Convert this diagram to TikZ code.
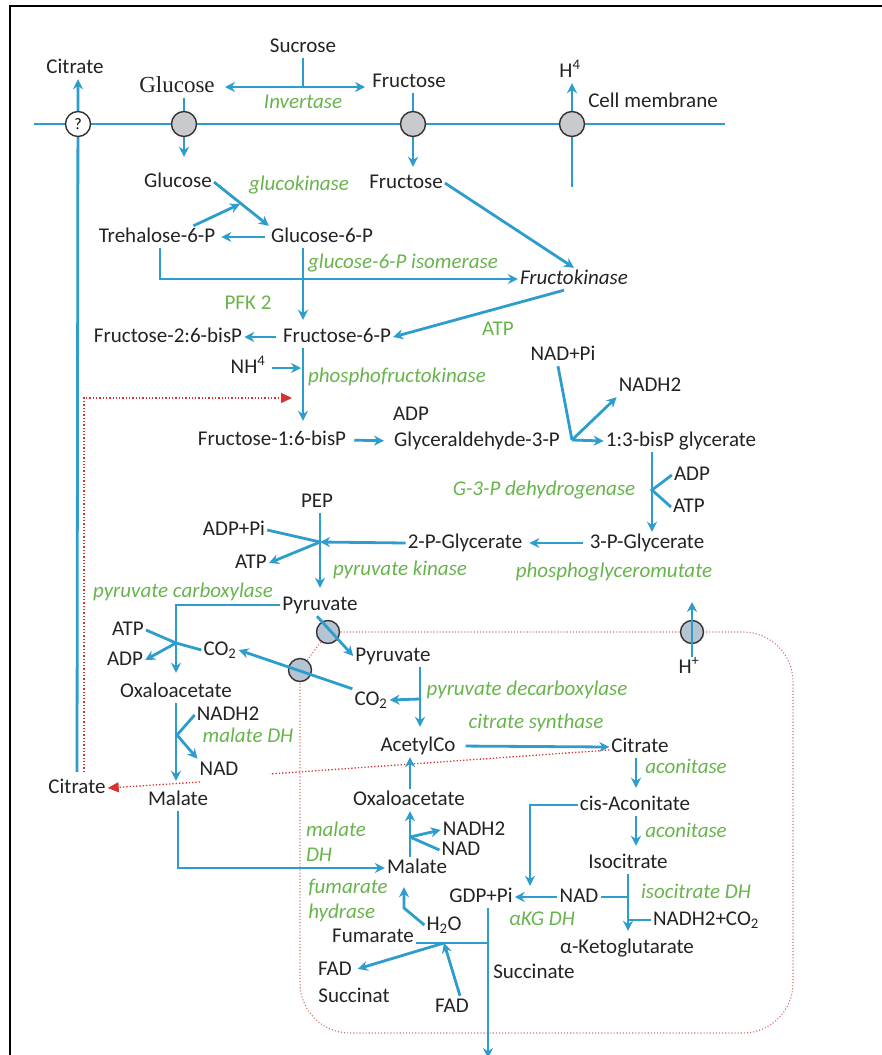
\documentclass[tikz,border=0pt]{standalone}
\usepackage{fontspec}
\setmainfont{Carlito}
\newfontfamily\glcserif{Liberation Serif}
\usetikzlibrary{arrows.meta}

\definecolor{pathblue}{RGB}{45,157,205}
\definecolor{enzgreen}{RGB}{104,180,76}
\definecolor{ink}{RGB}{35,35,35}
\definecolor{dotred}{RGB}{214,50,50}
\definecolor{mitored}{RGB}{214,110,110}
\definecolor{poregray}{RGB}{200,202,205}
\definecolor{mitogray}{RGB}{180,196,210}

\begin{document}
\begin{tikzpicture}[x=1pt, y=-1pt, >={Stealth[length=10pt,width=10pt]},
    txt/.style={font=\fontsize{21}{25}\selectfont, text=ink, inner sep=2pt, text height=14pt, text depth=4pt},
    enz/.style={txt, font=\fontsize{21}{25}\selectfont\itshape, text=enzgreen},
    enzup/.style={txt, text=enzgreen},
    enztwo/.style={font=\fontsize{21}{25}\selectfont\itshape, text=enzgreen, inner sep=2pt, align=left},
    flow/.style={draw=pathblue, line width=2.8pt},
    arr/.style={flow, ->},
    dual/.style={flow, <->},
    inhib/.style={draw=dotred, line width=1.3pt, dotted},
    mito/.style={draw=mitored, line width=1.1pt, dotted},
    pore/.style={circle, draw=black!80, line width=1.4pt, fill=poregray, minimum size=25pt, inner sep=0pt}]

    \useasboundingbox (0,0) rectangle (881,1055);
    \draw[black, line width=2.2pt] (10,1060) -- (10,6) -- (890,6);

    % membranes
    \coordinate (memL) at (34,124);
    \coordinate (memR) at (725,124);
    \coordinate (gq) at (78,124);
    \coordinate (gg) at (184,124);
    \coordinate (gf) at (413,124);
    \coordinate (gh) at (572,124);
    \coordinate (mt1) at (328,632);
    \coordinate (mt2) at (300,670);
    \coordinate (mt3) at (692,632);
    \draw[flow] (memL) -- (memR);
    \draw[mito] (mt1) -- (mt2);
    \draw[mito, rounded corners=50pt] (mt1) -- (793,632) -- (793,1033) -- (300,1033) -- (mt2);
    \foreach \m in {mt1,mt2,mt3} {\node[pore, fill=mitogray, minimum size=23pt] at (\m) {};}

    % outside
    \node[txt] (sucr) at (303,47) {Sucrose};
    \node[txt, font=\glcserif\fontsize{23}{27}\selectfont] (glcA) at (177,87) {Glucose};
    \node[txt] (fruA) at (409,82) {Fructose};
    \node[enz] (invert) at (303,103) {Invertase};
    \node[txt] (citA) at (75,68) {Citrate};
    \node[txt] (hA) at (570,72) {H\textsuperscript{4}};
    \node[txt] (membr) at (653,102) {Cell membrane};

    % cytoplasm
    \node[txt] (glcB) at (178,182) {Glucose};
    \node[enz] (gluk) at (299,185) {glucokinase};
    \node[txt] (fruB) at (406,183) {Fructose};
    \node[txt] (treh) at (157,237) {Trehalose-6-P};
    \node[txt] (g6p) at (322,237) {Glucose-6-P};
    \node[enz] (isom) at (403,263) {glucose-6-P isomerase};
    \node[txt, font=\fontsize{21}{25}\selectfont\itshape] (fkin) at (574,279) {Fructokinase};
    \node[enzup] (pfk2) at (248,304) {PFK 2};
    \node[enzup] (atpA) at (498,330) {ATP};
    \node[txt] (f26) at (168,337) {Fructose-2:6-bisP};
    \node[txt] (f6p) at (337,337) {Fructose-6-P};
    \node[txt] (nadpi) at (563,355) {NAD+Pi};
    \node[txt] (nh4) at (248,368) {NH\textsuperscript{4}};
    \node[enz] (pfk) at (397,377) {phosphofructokinase};
    \node[txt] (nadh2A) at (650,386) {NADH2};
    \node[txt] (adpA) at (411,415) {ADP};
    \node[txt] (f16) at (272,440) {Fructose-1:6-bisP};
    \node[txt] (gap) at (477,441) {Glyceraldehyde-3-P};
    \node[txt] (bpg) at (681,441) {1:3-bisP glycerate};
    \node[txt] (adpB) at (692,475) {ADP};
    \node[enz] (g3pdh) at (544,490) {G-3-P dehydrogenase};
    \node[txt] (atpB) at (689,507) {ATP};
    \node[txt] (pep) at (317,502) {PEP};
    \node[txt] (adppi) at (234,530) {ADP+Pi};
    \node[txt] (pg2) at (465,543) {2-P-Glycerate};
    \node[txt] (pg3) at (647,543) {3-P-Glycerate};
    \node[txt] (atpC) at (251,563) {ATP};
    \node[enz] (pyk) at (400,570) {pyruvate kinase};
    \node[enz] (pgm) at (614,572) {phosphoglyceromutate};
    \node[enz] (pc) at (183,592) {pyruvate carboxylase};
    \node[txt] (pyrA) at (320,605) {Pyruvate};
    \node[txt] (atpD) at (128,630) {ATP};
    \node[txt] (co2A) at (220,650) {CO\textsubscript{2}};
    \node[txt] (adpD) at (125,660) {ADP};
    \node[txt] (oaaA) at (176,692) {Oxaloacetate};
    \node[txt] (nadh2B) at (228,715) {NADH2};
    \node[enz] (mdhA) at (248,737) {malate DH};
    \node[txt] (nadB) at (219,770) {NAD};
    \node[txt] (citB) at (77,788) {Citrate};
    \node[txt] (malA) at (178,800) {Malate};

    % mitochondrion
    \node[txt] (pyrB) at (393,656) {Pyruvate};
    \node[txt] (hB) at (689,668) {H\textsuperscript{+}};
    \node[enz] (pdc) at (527,690) {pyruvate decarboxylase};
    \node[txt] (co2B) at (371,700) {CO\textsubscript{2}};
    \node[enz] (cs) at (536,723) {citrate synthase};
    \node[txt] (acoa) at (418,746) {AcetylCo};
    \node[txt] (citC) at (640,747) {Citrate};
    \node[enz] (aco1) at (686,768) {aconitase};
    \node[txt] (oaaB) at (409,800) {Oxaloacetate};
    \node[txt] (cisa) at (635,805) {cis-Aconitate};
    \node[enztwo] (mdhB) at (336,842) {malate\\DH};
    \node[txt] (nadh2C) at (474,830) {NADH2};
    \node[enz] (aco2) at (686,832) {aconitase};
    \node[txt] (nadC) at (461,850) {NAD};
    \node[txt] (isoc) at (628,863) {Isocitrate};
    \node[txt] (malB) at (417,868) {Malate};
    \node[enztwo] (fumh) at (348,900) {fumarate\\hydrase};
    \node[enz] (icdh) at (696,893) {isocitrate DH};
    \node[txt] (gdp) at (481,897) {GDP+Pi};
    \node[txt] (nadD) at (579,897) {NAD};
    \node[enz] (akgdh) at (542,920) {αKG DH};
    \node[txt] (nadh2co2) at (706,920) {NADH2+CO\textsubscript{2}};
    \node[txt] (h2o) at (444,925) {H\textsubscript{2}O};
    \node[txt] (fum) at (373,937) {Fumarate};
    \node[txt] (akg) at (627,948) {α-Ketoglutarate};
    \node[txt] (fadA) at (335,970) {FAD};
    \node[txt] (succ) at (534,973) {Succinate};
    \node[txt] (succt) at (354,997) {Succinat};
    \node[txt] (fadB) at (452,1007) {FAD};

    % junctions
    \coordinate (inv) at (303,87);
    \coordinate (invL) at (225,87);
    \coordinate (invR) at (365,87);
    \coordinate (hfoot) at (572,187);
    \coordinate (qfoot) at (77,772);
    \coordinate (rfoot) at (84,772);
    \coordinate (rtip) at (292,398);
    \coordinate (t6pin) at (240,204);
    \coordinate (spine) at (303,300);
    \coordinate (gapj) at (572,440);
    \coordinate (bx) at (652,490);
    \coordinate (pepj) at (320,542);
    \coordinate (pcj) at (176,643);
    \coordinate (mdhAj) at (177,735);
    \coordinate (pdcj) at (420,699);
    \coordinate (hBtip) at (692,602);
    \coordinate (acox) at (636,780);
    \coordinate (cisL) at (530,805);
    \coordinate (mdhj) at (410,837);
    \coordinate (icj) at (628,897);
    \coordinate (h2oj) at (404,908);
    \coordinate (sucj) at (488,943);
    \coordinate (fadj) at (444,943);
    \coordinate (sucfoot) at (488,1058);
    \coordinate (rgapR) at (270,774);
    \coordinate (rgapL) at (200,782);

    % sugar uptake
    \draw[flow] (sucr.south) -- (inv);
    \draw[dual] (invL) -- (invR);
    \draw[arr, shorten >=14pt] (gg |- glcA.south) -- (gg |- glcB.north);
    \draw[arr, shorten >=5pt] (gf |- fruA.south) -- (gf |- fruB.north);
    \draw[arr] (hfoot) -- (gh |- hA.south);
    \draw[arr] (qfoot) -- (gq |- citA.south);

    % glycolysis
    \draw[arr] (glcB.east) -- (g6p.north west);
    \draw[arr] ([xshift=-24pt]treh.north east) -- (t6pin);
    \draw[arr, shorten <=4pt, shorten >=4pt] (g6p.west) -- (treh.east);
    \draw[arr, shorten >=6pt] (spine |- g6p.south) -- (spine |- f6p.north);
    \draw[arr] ([xshift=3pt]treh.south) |- (fkin.west);
    \draw[arr] (fruB.east) -- (fkin.north);
    \draw[arr] ([xshift=-10pt]fkin.south) -- (f6p.east);
    \draw[arr, shorten <=5pt] (f6p.west) -- (f26.east);
    \draw[arr, shorten >=8pt] (spine |- f6p.south) -- (spine |- f16.north);
    \draw[arr, shorten <=5pt, shorten >=2pt] (nh4.east) -- (spine |- nh4);
    \draw[inhib, -{Triangle[length=11pt,width=10pt]}] (rfoot) |- (rtip);
    \draw[arr, shorten <=6pt, shorten >=8pt] (f16.east) -- (gap.west);
    \draw[flow] ([xshift=-5pt]nadpi.south) -- (gapj);
    \draw[arr] (gapj) -- (nadh2A.south west);
    \draw[arr] (gapj) -- (bpg.west);
    \draw[arr] (bx |- bpg.south) -- (bx |- pg3.north);
    \draw[flow] (adpB.west) -- (bx) -- (atpB.west);
    \draw[arr, shorten <=5pt, shorten >=5pt] (pg3.west) -- (pg2.east);
    \draw[arr] (pg2.west) -- (pepj);
    \draw[arr, shorten >=6pt] (pep.south -| pepj) -- (pyrA.north -| pepj);
    \draw[flow] (adppi.east) -- (pepj);
    \draw[arr] (pepj) -- (atpC.east);

    % anaplerotic branch
    \draw[arr, shorten >=8pt] (pyrA.west) -| (oaaA.north);
    \draw[flow] (atpD.east) -- (pcj);
    \draw[arr] (pcj) -- (adpD.east);
    \draw[flow] (co2A.west) -- (pcj);
    \draw[arr, shorten >=8pt] (oaaA.south) -- (oaaA.south |- malA.north);
    \draw[flow] (nadh2B.west) -- (mdhAj);
    \draw[arr] (mdhAj) -- (nadB.north west);
    \draw[arr] (malA.south) |- (malB.west);
    \draw[inhib] ([yshift=-3pt]citC.west) -- (rgapR);
    \draw[inhib, -{Triangle[length=11pt,width=10pt]}] (rgapL) -- (citB.east);

    % mitochondrion
    \draw[arr] ([xshift=-3pt]pyrA.south) -- (pyrB.west);
    \draw[arr] (co2B.north west) -- (co2A.east);
    \draw[arr] (mt3 |- hB.north) -- (hBtip);
    \draw[arr, shorten >=8pt] (pdcj |- pyrB.south) -- (pdcj |- acoa.north);
    \draw[arr] (pdcj) -- (co2B.east);
    \draw[arr, shorten <=8pt] (acoa.east) -- (citC.west);
    \draw[arr, shorten >=6pt] (acox |- citC.south) -- (acox |- cisa.north);
    \draw[arr, shorten >=6pt] (acox |- cisa.south) -- (acox |- isoc.north);
    \draw[arr] (cisa.west) -- (cisL) -- (cisL |- gdp.north);
    \draw[arr, shorten >=6pt] (isoc.south) -- (isoc.south |- akg.north);
    \draw[flow] (nadD.east) -- (icj);
    \draw[flow] (isoc.south |- nadh2co2) -- (nadh2co2.west);
    \draw[arr] (nadD.west) -- (gdp.east);
    \draw[arr] (sucj |- gdp.south) -- (sucfoot);
    \draw[flow] (fum.east |- sucj) -- (sucj);
    \draw[arr, shorten >=4pt] (fadj) -- (fadA.east);
    \draw[arr] ([xshift=8pt]fadB.north) -- (fadj);
    \draw[arr, shorten >=8pt] (h2o.west) -- (h2oj) -- (h2oj |- malB.south);
    \draw[arr] (mdhj |- malB.north) -- (mdhj |- oaaB.south);
    \draw[arr] (mdhj) -- (nadh2C.west);
    \draw[flow] (nadC.west) -- (mdhj);
    \draw[arr] (oaaB.north -| mdhj) -- (acoa.south -| mdhj);

    % plasma membrane carriers
    \node[pore, fill=white, font=\fontsize{16}{16}\selectfont] (pq) at (gq) {?};
    \foreach \g in {gg,gf,gh} {\node[pore] at (\g) {};}
\end{tikzpicture}
\end{document}
